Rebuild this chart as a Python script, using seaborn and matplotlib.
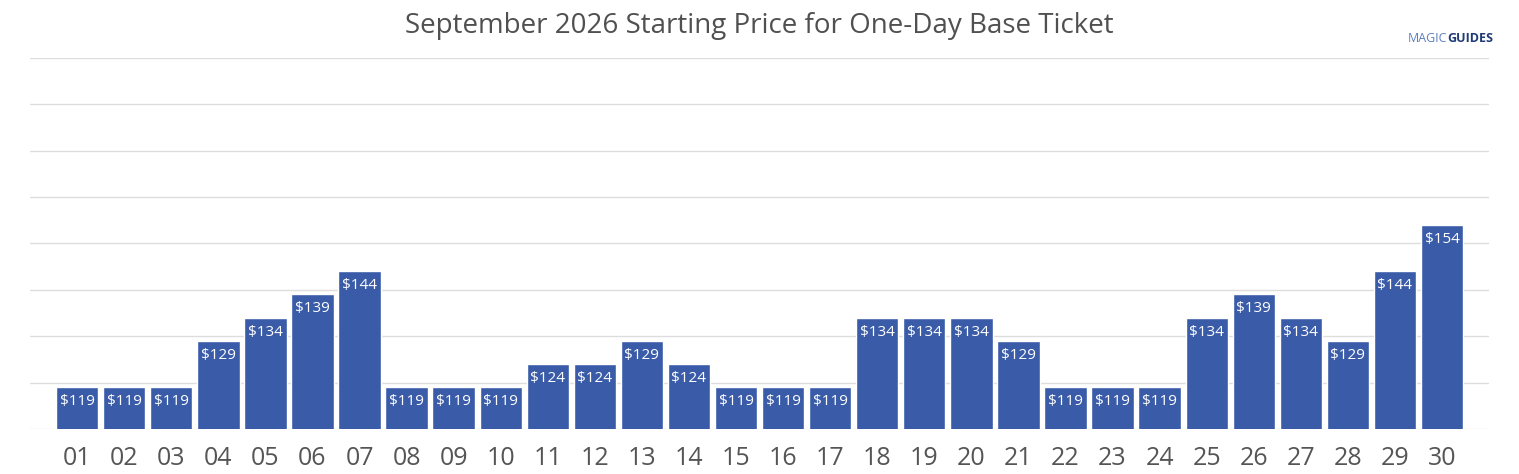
import pandas as pd
import matplotlib.pyplot as plt
import seaborn as sns

# September 2026 one-day base ticket prices
days = ['01', '02', '03', '04', '05', '06', '07', '08', '09', '10',
        '11', '12', '13', '14', '15', '16', '17', '18', '19', '20',
        '21', '22', '23', '24', '25', '26', '27', '28', '29', '30']
prices = [119, 119, 119, 129, 134, 139, 144, 119, 119, 119,
          124, 124, 129, 124, 119, 119, 119, 134, 134, 134,
          129, 119, 119, 119, 134, 139, 134, 129, 144, 154]

df = pd.DataFrame({'Day': days, 'Price': prices})

sns.set_style("white")
plt.rcParams['font.family'] = ['Open Sans', 'DejaVu Sans']

fig = plt.figure(figsize=(15.19, 4.74), dpi=100)
ax = fig.add_axes([0.0198, 0.095, 0.9605, 0.7826])

sns.barplot(x='Day', y='Price', data=df, color='#3a5ba8', saturation=1,
            width=0.9, ax=ax, zorder=3)

ax.set_ylim(110, 190)
ax.set_xlim(-1, 30)
ax.set_yticks(range(110, 191, 10))
ax.set_yticklabels([])
ax.grid(axis='y', color='#dddddd', linewidth=1, zorder=0)
ax.tick_params(axis='y', length=0)
ax.tick_params(axis='x', length=0, labelsize=18, labelcolor='#555555', pad=12)
ax.set_xlabel('')
ax.set_ylabel('')
for s in ax.spines.values():
    s.set_visible(False)

# value labels inside the bar tops
for i, p in enumerate(prices):
    ax.annotate(f'${p}', (i, p), xytext=(0, -5), textcoords='offset points',
                ha='center', va='top', color='white', fontsize=11, zorder=4)

fig.text(0.5, 0.945, 'September 2026 Starting Price for One-Day Base Ticket',
         ha='center', va='center', fontsize=20, color='#505050')

# logo text
fig.text(0.9525, 0.918, 'MAGIC', ha='right', va='center', fontsize=9,
         color='#5b7fc4')
fig.text(0.9525, 0.918, 'GUIDES', ha='left', va='center', fontsize=9,
         color='#1f3a75', fontweight='bold')

plt.savefig('out.png', dpi=100)
